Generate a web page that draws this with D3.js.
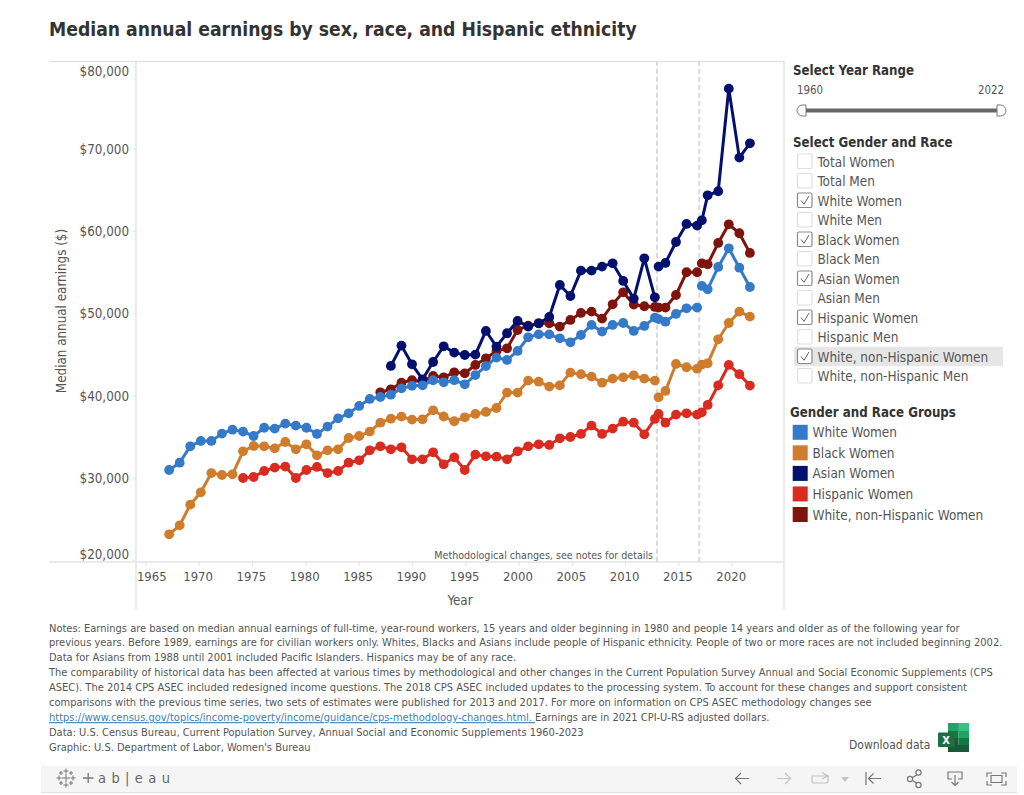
<!DOCTYPE html>
<html><head><meta charset="utf-8">
<script src="https://cdn.jsdelivr.net/npm/d3@7/dist/d3.min.js"></script>
<style>html,body{margin:0;padding:0;background:#fff}svg{display:block}text{font-family:"DejaVu Sans Condensed","DejaVu Sans",sans-serif;font-stretch:condensed}</style>
</head><body><div id="chart"></div>
<script>
const title = "Median annual earnings by sex, race, and Hispanic ethnicity";
// 2013 and 2017 have two published estimates; the second of each is plotted just after the first.
const years = [1967,1968,1969,1970,1971,1972,1973,1974,1975,1976,1977,1978,1979,1980,1981,1982,1983,1984,1985,1986,1987,1988,1989,1990,1991,1992,1993,1994,1995,1996,1997,1998,1999,2000,2001,2002,2003,2004,2005,2006,2007,2008,2009,2010,2011,2012,2013,2013.35,2014,2015,2016,2017,2017.45,2018,2019,2020,2021,2022];
const seriesBreaks = [2013.35,2017.45];
const n = null;
const whiteWomen = [30970,31860,33850,34500,34500,35390,35870,35630,35100,36100,36000,36600,36360,36100,35350,36240,37250,37860,38750,39600,39840,40120,40890,41200,41260,41870,41620,41880,41380,42500,43600,44620,44340,45430,47090,47450,47450,46970,46480,47370,48590,47780,48590,48830,47860,48470,49480,49300,48990,49930,50610,50700,53330,52920,55640,57900,55550,53200];
const blackWomen = [23155,24250,26760,28260,30600,30360,30450,33240,33890,33850,33600,34370,33480,34090,32750,33360,33480,34860,35100,35630,36720,37200,37450,37090,37130,38220,37470,36890,37370,37780,38020,38500,40370,40370,41830,41700,41100,41260,42800,42600,42310,41580,42070,42230,42470,42070,41830,39800,40570,43850,43450,43280,43770,43930,46850,48830,50210,49600];
const asianWomen = [n,n,n,n,n,n,n,n,n,n,n,n,n,n,n,n,n,n,n,n,n,43610,46080,43810,41990,44090,46000,45230,44940,44990,47860,45960,47580,49080,48390,48790,49560,53450,52110,55190,55190,55680,56080,53940,51790,56690,51950,55680,56120,58670,60860,60660,61300,64340,64830,77300,68920,70660];
const hispanicWomen = [n,n,n,n,n,n,n,30000,30120,30850,31260,31380,30000,30970,31340,30600,30850,31860,32150,33360,33850,33480,33730,32270,32270,33120,31660,32510,30970,32840,32630,32590,32270,33240,33850,34090,34010,34820,34980,35350,36360,35350,36000,36840,36720,35300,37170,37780,36720,37700,37860,37700,37980,38870,41260,43730,42600,41220];
const whiteNonHispanicWomen = [n,n,n,n,n,n,n,n,n,n,n,n,n,n,n,n,n,n,n,n,40410,40770,41580,41870,41700,42390,42230,42840,42720,43730,44540,45430,45750,47980,48510,48790,48790,48390,49200,50050,50210,49360,51100,52560,51060,50860,50780,50700,50700,52230,54990,54990,56080,55960,58550,60820,59730,57340];
const legendNames = ["White Women","Black Women","Asian Women","Hispanic Women","White, non-Hispanic Women"];
const legendColors = ["#3579c9","#cf7c2c","#03106e","#d92b1f","#7e140c"];
const drawOrder = [4,2,3,1,0];
const seriesValues = [whiteWomen,blackWomen,asianWomen,hispanicWomen,whiteNonHispanicWomen];
const yTicks = [20000,30000,40000,50000,60000,70000,80000];
const xTicks = [1965,1970,1975,1980,1985,1990,1995,2000,2005,2010,2015,2020];
const changeYears = [2013.2,2017.2];
const filterNames = ["Total Women","Total Men","White Women","White Men","Black Women","Black Men","Asian Women","Asian Men","Hispanic Women","Hispanic Men","White, non-Hispanic Women","White, non-Hispanic Men"];
const filterChecked = [false,false,true,false,true,false,true,false,true,false,true,false];
const noteLines = [
"Notes: Earnings are based on median annual earnings of full-time, year-round workers, 15 years and older beginning in 1980 and people 14 years and older as of the following year for",
"previous years. Before 1989, earnings are for civilian workers only. Whites, Blacks and Asians include people of Hispanic ethnicity. People of two or more races are not included beginning 2002.",
"Data for Asians from 1988 until 2001 included Pacific Islanders. Hispanics may be of any race.",
"The comparability of historical data has been affected at various times by methodological and other changes in the Current Population Survey Annual and Social Economic Supplements (CPS",
"ASEC). The 2014 CPS ASEC included redesigned income questions. The 2018 CPS ASEC included updates to the processing system. To account for these changes and support consistent",
"comparisons with the previous time series, two sets of estimates were published for 2013 and 2017. For more on information on CPS ASEC methodology changes see",
null,
"Data: U.S. Census Bureau, Current Population Survey, Annual Social and Economic Supplements 1960-2023",
"Graphic: U.S. Department of Labor, Women's Bureau"];
const noteLink = "https://www.census.gov/topics/income-poverty/income/guidance/cps-methodology-changes.html. ";
const noteAfterLink = "Earnings are in 2021 CPI-U-RS adjusted dollars.";

const FONT = '"DejaVu Sans Condensed","DejaVu Sans",sans-serif';
const svg = d3.select("#chart").append("svg").attr("width",1024).attr("height",795);
const TXT = "#555", BOLD = "#333", RULE = "#e3e3e3";
svg.append("text").attr("x",49).attr("y",36).attr("font-size",19.2).attr("font-weight",700).attr("fill",BOLD).text(title);

const y = d3.scaleLinear().domain([20000,80000]).range([560.3,66.4]);
const xAxisScale = d3.scaleLinear().domain([1965,2020]).range([145.3,731.7]);
const x = d3.scaleLinear().domain([1990,2022]).range([412,749.9]);

[[49,61.5,784,61.5],[49,562,784,562],[136,61,136,610],[784,61,784,610]].forEach(l=>
  svg.append("line").attr("x1",l[0]).attr("y1",l[1]).attr("x2",l[2]).attr("y2",l[3]).attr("stroke",RULE).attr("stroke-width",1.5));

const yG = svg.append("g").attr("transform","translate(136,0)")
  .call(d3.axisLeft(y).tickValues(yTicks).tickFormat(d3.format("$,")).tickSize(3).tickPadding(4));
yG.select(".domain").remove();
yG.selectAll("line").attr("stroke",RULE);
yG.selectAll("text").attr("font-size",13.3).attr("fill",TXT).style("font-family",FONT)
  .attr("dy",d=>d===80000?"0.7em":d===20000?"-0.15em":"0.33em");

const xG = svg.append("g").attr("transform","translate(0,562)")
  .call(d3.axisBottom(xAxisScale).tickValues(xTicks).tickFormat(d3.format("d")).tickSize(4).tickPadding(6));
xG.select(".domain").remove();
xG.selectAll("line").attr("stroke",RULE);
xG.selectAll("text").attr("font-size",13).attr("fill",TXT).style("font-family",FONT)
  .attr("dx",d=>d===1965?6:-1);

svg.append("text").attr("transform","translate(66,311) rotate(-90)").attr("text-anchor","middle").attr("font-size",13.3).attr("fill",TXT).text("Median annual earnings ($)");
svg.append("text").attr("x",460).attr("y",605).attr("text-anchor","middle").attr("font-size",13.3).attr("fill",TXT).text("Year");

svg.selectAll(".ref").data(changeYears).join("line").attr("class","ref")
  .attr("x1",d=>x(d)).attr("x2",d=>x(d)).attr("y1",61).attr("y2",562)
  .attr("stroke","#dadada").attr("stroke-width",2).attr("stroke-dasharray","5,3");
svg.append("text").attr("x",653).attr("y",559).attr("text-anchor","end").attr("font-size",10.6).attr("fill",TXT).text("Methodological changes, see notes for details");

const line = d3.line().x(d=>x(d.year)).y(d=>y(d.value));
drawOrder.forEach(i=>{
  const pts = years.map((year,j)=>({year,value:seriesValues[i][j]})).filter(d=>d.value!==null);
  const runs = d3.groups(pts,d=>d3.bisectRight(seriesBreaks,d.year)).map(g=>g[1]);
  const g = svg.append("g").attr("fill",legendColors[i]);
  g.selectAll("path").data(runs).join("path").attr("d",line).attr("fill","none")
    .attr("stroke",legendColors[i]).attr("stroke-width",3).attr("stroke-linejoin","round");
  g.selectAll("circle").data(pts).join("circle").attr("cx",d=>x(d.year)).attr("cy",d=>y(d.value)).attr("r",4.9);
});

const head=(t,xx,yy)=>svg.append("text").attr("x",xx).attr("y",yy).attr("font-size",13.2).attr("font-weight",700).attr("fill",BOLD).text(t);
head("Select Year Range",793,75);
svg.append("text").attr("x",797).attr("y",94).attr("font-size",11.4).attr("fill",TXT).text("1960");
svg.append("text").attr("x",1004).attr("y",94).attr("text-anchor","end").attr("font-size",11.4).attr("fill",TXT).text("2022");
svg.append("line").attr("x1",805).attr("x2",998).attr("y1",110.5).attr("y2",110.5).attr("stroke","#666").attr("stroke-width",4);
svg.append("path").attr("d","M806,105 H802.5 A5.5,5.5 0 0 0 802.5,116 H806 Z").attr("fill","#fff").attr("stroke","#777");
svg.append("path").attr("d","M997,105 H1000.5 A5.5,5.5 0 0 1 1000.5,116 H997 Z").attr("fill","#fff").attr("stroke","#777");
head("Select Gender and Race",793,147);

const rowY = d3.scalePoint().domain(filterNames).range([161.5,376]);
svg.append("rect").attr("x",794).attr("y",346.7).attr("width",209).attr("height",19.5).attr("fill","#e6e6e6");
const rows = svg.selectAll(".row").data(filterNames).join("g").attr("class","row").attr("transform",d=>`translate(0,${rowY(d)})`);
rows.append("rect").attr("x",797.5).attr("y",-7.5).attr("width",14.5).attr("height",14.5).attr("rx",1.5)
  .attr("fill","#fff").attr("stroke",(d,i)=>filterChecked[i]?"#8a8a8a":"#dedede").attr("stroke-width",1.2);
rows.filter((d,i)=>filterChecked[i]).append("path").attr("d","M801,0 L804,3.8 L809,-4.5").attr("fill","none").attr("stroke","#666").attr("stroke-width",1);
rows.append("text").attr("x",817.5).attr("y",5).attr("font-size",13.45).attr("fill",TXT).text(d=>d);

head("Gender and Race Groups",790,417);
const legY = d3.scalePoint().domain(legendNames).range([432.3,514.5]);
const leg = svg.selectAll(".leg").data(legendNames).join("g").attr("class","leg").attr("transform",d=>`translate(0,${legY(d)})`);
leg.append("rect").attr("x",792.7).attr("y",-7.5).attr("width",15).attr("height",15).attr("fill",(d,i)=>legendColors[i]);
leg.append("text").attr("x",812.5).attr("y",5).attr("font-size",13.45).attr("fill",TXT).text(d=>d);

const noteY = d3.scaleLinear().domain([0,8]).range([631.5,751]);
noteLines.forEach((t,i)=>{
  const el = svg.append("text").attr("x",49).attr("y",noteY(i)).attr("font-size",11).attr("fill",TXT);
  if(t) el.text(t);
  else { el.append("tspan").attr("fill","#3b7fb9").attr("text-decoration","underline").style("white-space","pre").text(noteLink);
         el.append("tspan").text(noteAfterLink); }
});
svg.append("text").attr("x",849).attr("y",749).attr("font-size",12).attr("fill",TXT).text("Download data");

const ex = svg.append("g");
[["#21a366",948,723,21,8],["#33c481",958.5,723,10.5,8],["#21a366",958.5,731,10.5,7],["#107c41",948,731,10.5,7],["#107c41",958.5,738,10.5,7.5],["#185c37",948,738,10.5,7.5],["#185c37",948,745,21,7]].forEach(r=>
  ex.append("rect").attr("x",r[1]).attr("y",r[2]).attr("width",r[3]).attr("height",r[4]).attr("fill",r[0]));
ex.append("rect").attr("x",938).attr("y",732.5).attr("width",16.5).attr("height",14.5).attr("rx",1).attr("fill","#1d6f42");
ex.append("text").attr("x",946).attr("y",744).attr("text-anchor","middle").attr("font-size",11).attr("font-weight",700).attr("fill","#fff").text("X");

svg.append("rect").attr("x",41).attr("y",766).attr("width",976).attr("height",26).attr("fill","#f5f5f5");
svg.append("line").attr("x1",41).attr("x2",1017).attr("y1",792.5).attr("y2",792.5).attr("stroke","#e0e0e0");
const logo = svg.append("g").attr("stroke","#777").attr("stroke-width",1).attr("fill","none");
[[66,778,4],[59,778,2.5],[73,778,2.5],[66,771,2.5],[66,785,2.5],[61,773,2],[71,773,2],[61,783,2],[71,783,2]].forEach(p=>
  logo.append("path").attr("d",`M${p[0]-p[2]},${p[1]} H${p[0]+p[2]} M${p[0]},${p[1]-p[2]} V${p[1]+p[2]}`));
logo.append("path").attr("d","M83,778 H93.5 M88.2,773 V783").attr("stroke-width",1.3);
svg.append("text").attr("x",98).attr("y",783).attr("font-size",14.5).attr("letter-spacing",5.4).attr("fill","#666").text("ab|eau");
const icon=(d,c)=>svg.append("path").attr("d",d).attr("fill","none").attr("stroke",c||"#777").attr("stroke-width",1.2);
icon("M749,778.5 H736 M741,773 L735.5,778.5 L741,784");
icon("M777,778.5 H790 M785,773 L790.5,778.5 L785,784","#c4c4c4");
icon("M812,776 H828 V781 A2,2 0 0 1 826,783 H814 A2,2 0 0 1 812,781 Z M822,772.5 L828,776 L822,779","#c4c4c4");
svg.append("path").attr("d","M841,777 H849 L845,782 Z").attr("fill","#c4c4c4");
icon("M866,772 V785 M881,778.5 H869 M873.5,773.5 L868.5,778.5 L873.5,783.5");
icon("M911,778.5 L919,773.5 M911,779.5 L919,784.5");
[[910,779],[918.5,772.5],[918.5,785]].forEach(p=>svg.append("circle").attr("cx",p[0]).attr("cy",p[1]).attr("r",2.6).attr("fill","#f5f5f5").attr("stroke","#777").attr("stroke-width",1.2));
icon("M952,779 H948 V772 H962 V779 H958 M955,775 V785 M951.5,782 L955,785.5 L958.5,782");
icon("M987,777 V773 H992 M1001,773 H1006 V777 M1006,781 V785 H1001 M992,785 H987 V781 M991,775.5 H1002 V782.5 H991 Z");
</script></body></html>
